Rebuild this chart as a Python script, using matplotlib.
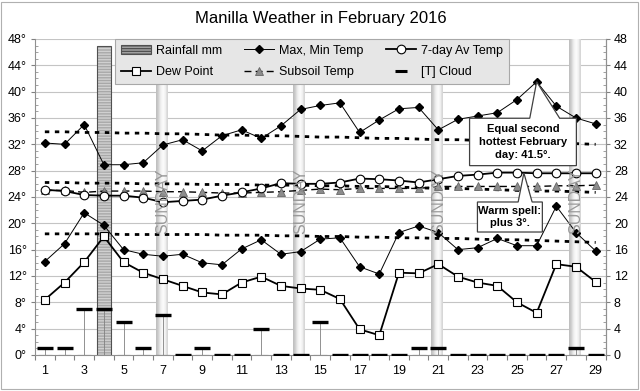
import numpy as np
import matplotlib
matplotlib.use("Agg")
import matplotlib.pyplot as plt
from matplotlib.lines import Line2D
from matplotlib.patches import Patch, Polygon, Rectangle
from matplotlib.ticker import FixedLocator, MultipleLocator

plt.rcParams["font.family"] = ["Liberation Sans", "DejaVu Sans"]

days = list(range(1, 30))
max_temp = [32.2, 32.0, 35.0, 28.9, 28.9, 29.2, 31.9, 32.7, 31.0, 33.3, 34.2, 32.9, 34.8, 37.3, 37.9,
            38.3, 33.8, 35.7, 37.4, 37.6, 34.2, 35.8, 36.3, 36.8, 38.8, 41.5, 37.8, 36.0, 35.1]
min_temp = [14.2, 16.9, 21.6, 19.7, 16.0, 15.3, 15.0, 15.3, 14.0, 13.7, 16.1, 17.5, 15.3, 15.7, 17.6,
            17.8, 13.4, 12.3, 18.6, 19.6, 18.6, 16.0, 16.3, 17.7, 16.6, 16.6, 22.6, 18.6, 15.8]
dew_point = [8.4, 11.0, 14.1, 18.0, 14.1, 12.5, 11.5, 10.5, 9.5, 9.2, 11.0, 11.9, 10.5, 10.1, 9.9,
             8.5, 3.9, 3.0, 12.5, 12.4, 13.8, 11.9, 11.0, 10.5, 8.0, 6.4, 13.8, 13.4, 11.1]
avg_7day = [25.1, 24.9, 24.3, 24.2, 24.2, 23.9, 23.2, 23.4, 23.6, 24.2, 24.7, 25.3, 26.1, 26.0, 26.0,
            26.2, 26.8, 26.7, 26.5, 26.2, 26.7, 27.2, 27.4, 27.7, 27.7, 27.6, 27.6, 27.6, 27.6]
subsoil = [25.0, 25.0, 24.7, 24.9, 24.9, 24.9, 24.8, 24.8, 24.7, 24.6, 24.6, 24.7, 24.8, 25.0, 25.2,
           25.1, 25.3, 25.3, 25.3, 25.3, 25.6, 25.6, 25.6, 25.6, 25.6, 25.6, 25.7, 25.7, 25.8]
rainfall = [0, 0, 0, 47, 0, 0, 0, 0, 0, 0, 0, 0, 0, 0, 0,
            0, 0, 0, 0, 0, 0, 0, 0, 0, 0, 0, 0, 0, 0]
cloud = [1, 1, 7, 7, 5, 1, 6, 0, 1, 0, 0, 4, 0, 0, 5,
         0, 0, 0, 0, 1, 1, 0, 0, 0, 0, 0, 0, 1, 0]
# long-term averages (dotted)
normal_max = [33.9, 33.9, 33.8, 33.8, 33.7, 33.7, 33.6, 33.6, 33.5, 33.4, 33.4, 33.3, 33.3, 33.2, 33.1,
              33.1, 33.0, 32.9, 32.9, 32.8, 32.7, 32.7, 32.6, 32.5, 32.4, 32.3, 32.2, 32.1, 32.0]
normal_mean = [26.2, 26.2, 26.1, 26.1, 26.1, 26.0, 26.0, 26.0, 25.9, 25.9, 25.9, 25.8, 25.8, 25.8, 25.7,
               25.7, 25.6, 25.6, 25.5, 25.4, 25.3, 25.3, 25.2, 25.1, 25.0, 24.9, 24.9, 24.8, 24.7]
normal_min = [18.4, 18.4, 18.4, 18.4, 18.3, 18.3, 18.3, 18.3, 18.3, 18.2, 18.2, 18.2, 18.1, 18.1, 18.0,
              18.0, 17.9, 17.9, 17.8, 17.8, 17.7, 17.7, 17.6, 17.5, 17.5, 17.4, 17.3, 17.2, 17.1]
sundays = [7, 14, 21, 28]
y_ticks = list(range(0, 49, 4))

fig = plt.figure(figsize=(6.4, 3.91), dpi=100)
ax = fig.add_axes([0.0547, 0.0921, 0.8914, 0.8082])
ax.set_xlim(0.5, 29.5)
ax.set_ylim(0, 48)

for y in y_ticks[1:]:
    ax.axhline(y, color="#c4c4c4", lw=0.8, zorder=0)

# Sunday bands
grad = np.array([[0.36, 0.28, 0.16, 0.06, 0.04, 0.12, 0.26]])
for d in sundays:
    ax.imshow(grad, extent=(d - 0.37, d + 0.22, 0, 48), aspect="auto", cmap="Greys",
              vmin=0, vmax=1, zorder=1, interpolation="bilinear")
    ax.text(d, 23.4, "SUNDAY", rotation=90, ha="center", va="center", fontsize=11.5,
            color="#9a9a9a", zorder=5)

# Rainfall
ax.bar(days, rainfall, width=0.7, color="#a8a8a8", edgecolor="#d0d0d0", hatch="------",
       linewidth=0, zorder=2)
ax.bar(days, rainfall, width=0.7, fill=False, edgecolor="#505050", linewidth=0.8, zorder=2)

# Long-term averages
for series in (normal_max, normal_mean, normal_min):
    ax.plot(days, series, color="black", lw=2.0, ls=(0, (1.6, 2.0)), zorder=3)

# Cloud
ax.vlines(days, 0, cloud, color="#808080", lw=0.6, zorder=3)
ax.plot(days, cloud, ls="none", marker="_", ms=11, mew=2.4, color="black", zorder=3)

# Temperatures
ax.plot(days, max_temp, color="black", lw=0.7, marker="D", ms=4.5, zorder=4)
ax.plot(days, min_temp, color="black", lw=0.7, marker="D", ms=4.5, zorder=4)
ax.plot(days, dew_point, color="black", lw=1.3, marker="s", ms=5.5, mfc="white", mec="black",
        mew=0.8, zorder=4)
ax.plot(days, subsoil, color="black", lw=1.0, ls=(0, (5, 3)), marker="^", ms=5.5, mfc="#8c8c8c",
        mec="#666666", mew=0.6, zorder=4)
ax.plot(days, avg_7day, color="black", lw=1.3, marker="o", ms=6.2, mfc="white", mec="black",
        mew=0.8, zorder=4)

# Axes styling
ax.spines["top"].set_visible(False)
for s in ("left", "right", "bottom"):
    ax.spines[s].set_color("#909090")
ax.set_yticks(y_ticks)
ax.set_yticklabels([f"{v}°" for v in y_ticks])
ax.yaxis.set_minor_locator(MultipleLocator(1))
ax.tick_params(axis="y", which="major", direction="out", length=3, width=0.8, color="#808080",
               labelsize=9, pad=3)
ax.tick_params(axis="y", which="minor", direction="in", length=2.5, width=0.6, color="#909090")
ax.set_xticks(days[::2])
ax.xaxis.set_minor_locator(FixedLocator([d - 0.5 for d in days] + [29.5]))
ax.tick_params(axis="x", which="major", length=0, labelsize=9, pad=7)
ax.tick_params(axis="x", which="minor", direction="out", length=3.5, width=0.8, color="#808080")

ax2 = ax.twinx()
ax2.set_ylim(0, 48)
ax2.set_yticks(y_ticks)
ax2.yaxis.set_minor_locator(MultipleLocator(1))
ax2.tick_params(axis="y", which="major", direction="out", length=3, width=0.8, color="#808080",
                labelsize=9, pad=3)
ax2.tick_params(axis="y", which="minor", direction="in", length=2.5, width=0.6, color="#909090")
for s in ("top", "left", "bottom"):
    ax2.spines[s].set_visible(False)
ax2.spines["right"].set_color("#909090")

# Legend
handles = [
    Patch(facecolor="#a8a8a8", edgecolor="#505050", hatch="------", lw=0.8),
    Line2D([], [], color="black", lw=1.3, marker="s", ms=5.5, mfc="white", mec="black", mew=0.8),
    Line2D([], [], color="black", lw=0.7, marker="D", ms=4.5),
    Line2D([], [], color="black", lw=1.0, ls=(0, (5, 3)), marker="^", ms=5.5, mfc="#8c8c8c",
           mec="#666666", mew=0.6),
    Line2D([], [], color="black", lw=1.3, marker="o", ms=6.2, mfc="white", mec="black", mew=0.8),
    Line2D([], [], ls="none", marker="_", ms=8, mew=2.2, color="black"),
]
labels = ["Rainfall mm", "Dew Point", "Max, Min Temp", "Subsoil Temp", "7-day Av Temp", "[T] Cloud"]
leg = ax2.legend(handles, labels, ncol=3, loc="upper left", bbox_to_anchor=(0.140, 1.0),
                 borderaxespad=0, fontsize=9, handlelength=2.4, handletextpad=0.4,
                 columnspacing=1.8, labelspacing=0.75, borderpad=0.45, fancybox=False,
                 framealpha=1, facecolor="#e6e6e6", edgecolor="#a8a8a8")
leg.get_frame().set_linewidth(0.8)
leg.set_zorder(10)


def callout(axis, left, right, top, bottom, base_a, base_b, tip, text):
    pts = [(left, bottom), (right, bottom), (right, top), (base_b, top), tip, (base_a, top), (left, top)]
    axis.add_patch(Polygon(pts, closed=True, facecolor="white", edgecolor="#404040", lw=0.9, zorder=6))
    axis.text((left + right) / 2, (top + bottom) / 2, text, ha="center", va="center", fontsize=8,
              fontweight="bold", linespacing=1.35, zorder=7)


callout(ax, 22.59, 28.02, 35.96, 28.76, 25.65, 27.17, (days[25], max_temp[25]),
        "Equal second\nhottest February\nday: 41.5°.")
callout(ax, 22.99, 26.29, 23.24, 18.68, 25.06, 25.77, (25.35, 27.65), "Warm spell:\nplus 3°.")

fig.text(0.502, 0.953, "Manilla Weather in February 2016", ha="center", va="center", fontsize=12)
fig.patches.append(Rectangle((0.002, 0.004), 0.995, 0.992, transform=fig.transFigure, fill=False,
                             edgecolor="#b0b0b0", lw=0.8))

fig.savefig("out.png", dpi=100)
